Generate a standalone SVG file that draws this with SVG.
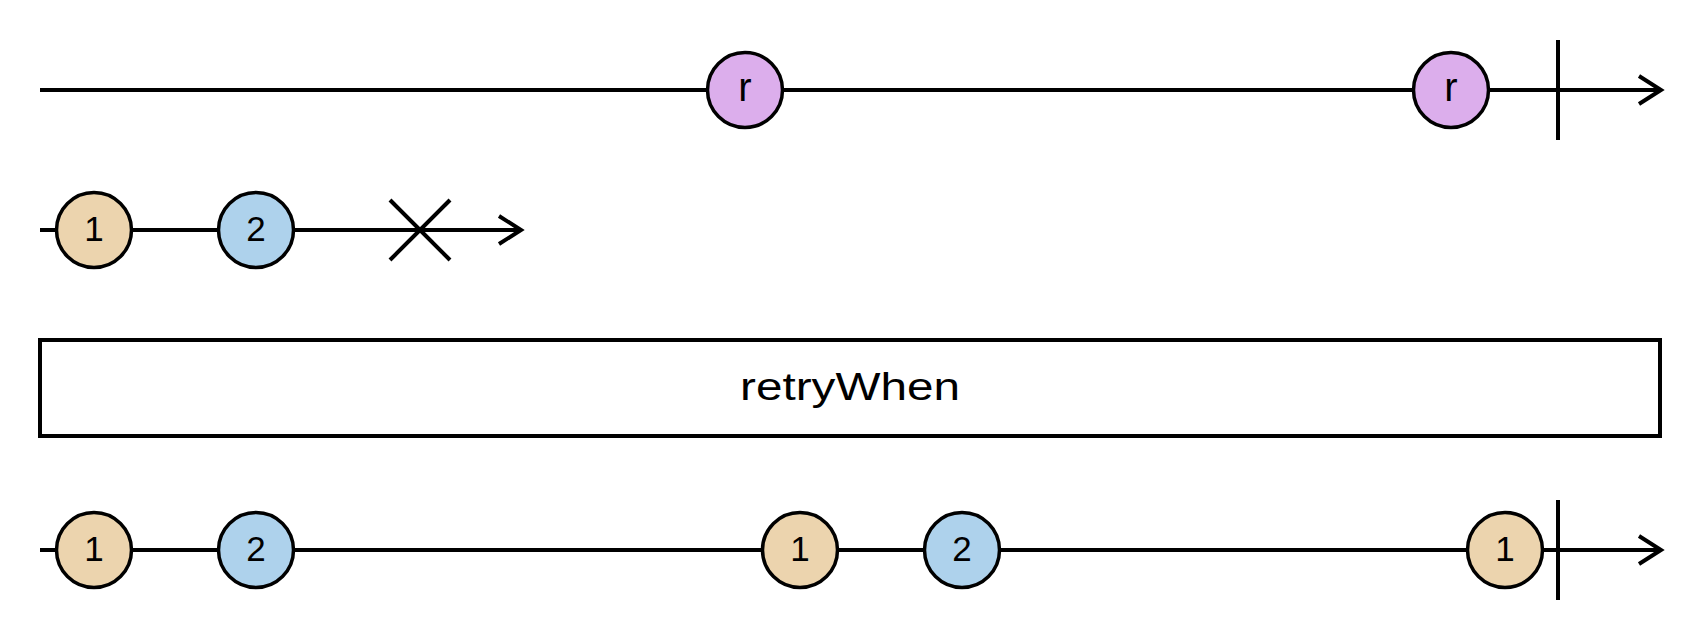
<svg xmlns="http://www.w3.org/2000/svg" width="1700" height="640" viewBox="0 0 1700 640">
<style>
.tl{stroke:#000;stroke-width:4;fill:none}
.mk{stroke:#000;stroke-width:4;fill:none}
.c{stroke:#000;stroke-width:3.5}
.tan{fill:#ECD4AE}
.blue{fill:#AED2EC}
.pur{fill:#DCAEEC}
.lbl{font-family:"Liberation Sans",Arial,sans-serif;font-size:35px;text-anchor:middle;fill:#000}
.lr{font-size:40px}
.op{font-family:"Liberation Sans",Arial,sans-serif;font-size:39px;text-anchor:middle;fill:#000}
</style>
<defs>
<marker id="ah" markerUnits="userSpaceOnUse" markerWidth="30" markerHeight="34" viewBox="-26 -17 30 34" refX="0" refY="0" orient="auto" overflow="visible">
<path d="M-22,-14 L0,0 L-22,14" fill="none" stroke="#000" stroke-width="4"/>
</marker>
</defs>
<rect width="1700" height="640" fill="#fff"/>
<g id="connectors">
<line class="tl" x1="40" y1="90" x2="1661" y2="90" marker-end="url(#ah)"/>
<line class="tl" x1="1558" y1="40" x2="1558" y2="140"/>
<line class="tl" x1="40" y1="230" x2="521" y2="230" marker-end="url(#ah)"/>
<line class="mk" x1="390" y1="200" x2="450" y2="260"/>
<line class="mk" x1="450" y1="200" x2="390" y2="260"/>
<line class="tl" x1="40" y1="550" x2="1661" y2="550" marker-end="url(#ah)"/>
<line class="tl" x1="1558" y1="500" x2="1558" y2="600"/>
</g>
<g id="op-retryWhen">
<rect x="40" y="340" width="1620" height="96" fill="#fff" stroke="#000" stroke-width="4"/>
<text class="op" x="850" y="400" textLength="220" lengthAdjust="spacingAndGlyphs">retryWhen</text>
</g>
<g id="n-r1"><circle class="c pur" cx="745" cy="90" r="37.5"/><text class="lbl lr" x="745" y="101">r</text></g>
<g id="n-r2"><circle class="c pur" cx="1451" cy="90" r="37.5"/><text class="lbl lr" x="1451" y="101">r</text></g>
<g id="n-a1"><circle class="c tan" cx="94" cy="230" r="37.5"/><text class="lbl" x="94" y="241">1</text></g>
<g id="n-a2"><circle class="c blue" cx="256" cy="230" r="37.5"/><text class="lbl" x="256" y="241">2</text></g>
<g id="n-b1"><circle class="c tan" cx="94" cy="550" r="37.5"/><text class="lbl" x="94" y="561">1</text></g>
<g id="n-b2"><circle class="c blue" cx="256" cy="550" r="37.5"/><text class="lbl" x="256" y="561">2</text></g>
<g id="n-b3"><circle class="c tan" cx="800" cy="550" r="37.5"/><text class="lbl" x="800" y="561">1</text></g>
<g id="n-b4"><circle class="c blue" cx="962" cy="550" r="37.5"/><text class="lbl" x="962" y="561">2</text></g>
<g id="n-b5"><circle class="c tan" cx="1505" cy="550" r="37.5"/><text class="lbl" x="1505" y="561">1</text></g>
</svg>
